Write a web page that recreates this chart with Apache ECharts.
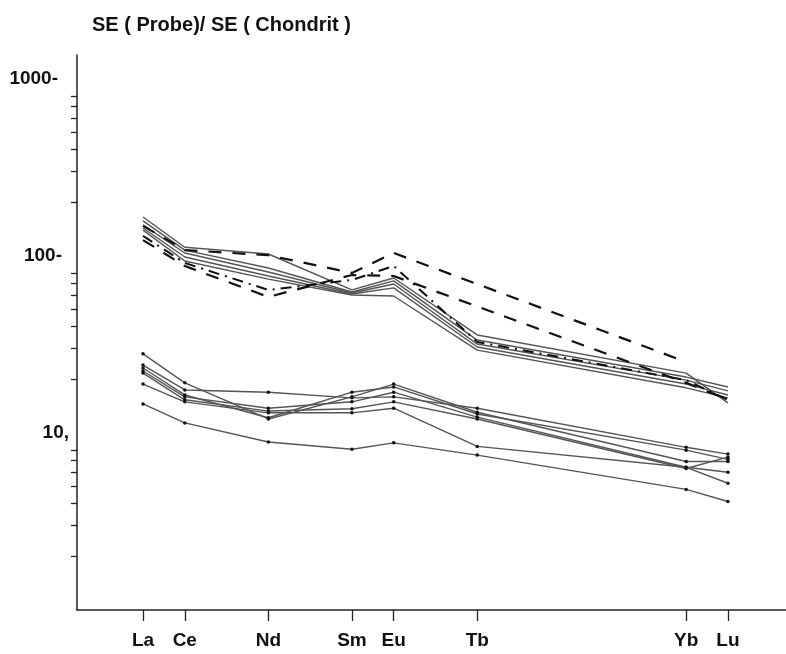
<!DOCTYPE html>
<html>
<head>
<meta charset="utf-8">
<script src="https://cdn.jsdelivr.net/npm/echarts@6/dist/echarts.min.js"></script>
<style>
  html, body { margin: 0; padding: 0; background: #fff; }
  #chart { width: 786px; height: 654px; }
</style>
</head>
<body>
<div id="chart"></div>
<script>
// element name -> atomic number (x position)
var elements = ['La', 'Ce', 'Nd', 'Sm', 'Eu', 'Tb', 'Yb', 'Lu'];
var atomicNo = [57, 58, 60, 62, 63, 65, 70, 71];

// upper group, solid lines (SE probe / SE chondrite)
var upper1 = [166, 112, 102.6, 64.3, 75.1, 35.8, 21.8, 14.8];
var upper2 = [158, 108, 85.5, 62.6, 72.3, 33.5, 20.7, 18.2];
var upper3 = [150, 104, 81.2, 61.8, 69.5, 31.8, 19.9, 17.3];
var upper4 = [144, 98.7, 77.1, 61.0, 66.0, 30.6, 18.9, 16.4];
var upper5 = [140, 93.7, 74.0, 60.2, 59.4, 29.4, 18.0, 15.8];
// upper group, broken lines (no Tb value -> straight to Yb)
var dashed1 = [148, 108, 101, 80.2, 104, null, 25.2, null];
var dashed2 = [123, 87.8, 58.7, 78.1, 77.1, null, 19.2, 15.4];
var dashdot = [130, 91.3, 64.3, 73.2, 87.8, 32.7, 19.9, 15.4];

// lower group, solid lines with points
var lower1 = [28.0, 19.2, 12.0, 16.0, 18.9, 13.1, 6.9, 6.9];
var lower2 = [24.2, 17.5, 17.0, 15.8, 16.0, 13.8, 8.3, 7.6];
var lower3 = [23.3, 16.4, 12.2, 17.0, 18.2, 12.8, 8.0, 7.1];
var lower4 = [22.4, 16.0, 13.8, 15.0, 17.0, 12.3, 6.4, 5.2];
var lower5 = [21.8, 15.4, 13.3, 13.7, 15.0, 12.0, 6.3, 7.3];
var lower6 = [18.9, 15.0, 13.0, 13.0, 13.8, 8.4, 6.4, 6.0];
var lower7 = [14.6, 11.4, 8.9, 8.1, 8.8, 7.5, 4.8, 4.1];

var yLabels = [10, 100, 1000];
var yMinorTicks = [2, 3, 4, 5, 6, 7, 8, 20, 30, 40, 50, 60, 70, 80, 200, 300, 400, 500, 600, 700, 800];

function toPoints(vals) {
  return vals.map(function (v, i) {
    return [atomicNo[i], v == null ? null : Math.log10(v)];
  });
}

function lineSeries(vals, type, withDots) {
  var s = {
    type: 'line',
    data: toPoints(vals),
    connectNulls: true,
    silent: true,
    symbol: withDots ? 'circle' : 'none',
    symbolSize: 3.5,
    itemStyle: { color: '#111' },
    lineStyle: { color: '#555', width: 1.4 }
  };
  if (type == 'dash') {
    s.lineStyle = { color: '#111', width: 2.2, type: [13, 11] };
  } else if (type == 'dashdot') {
    s.lineStyle = { color: '#111', width: 2, type: [11, 6, 2, 6] };
  }
  return s;
}

var series = [
  lineSeries(upper1), lineSeries(upper2), lineSeries(upper3), lineSeries(upper4), lineSeries(upper5),
  lineSeries(dashed1, 'dash'), lineSeries(dashed2, 'dash'), lineSeries(dashdot, 'dashdot'),
  lineSeries(lower1, '', true), lineSeries(lower2, '', true), lineSeries(lower3, '', true),
  lineSeries(lower4, '', true), lineSeries(lower5, '', true), lineSeries(lower6, '', true),
  lineSeries(lower7, '', true)
];

var myChart = echarts.init(document.getElementById('chart'), null, { renderer: 'canvas' });
var option = {
  animation: false,
  backgroundColor: '#fff',
  title: {
    text: 'SE ( Probe)/ SE ( Chondrit )',
    left: 87,
    top: 10,
    textStyle: { fontFamily: 'Liberation Sans', fontWeight: 'bold', fontSize: 20, color: '#111' }
  },
  grid: { left: 77, right: 0, top: 55, bottom: 44 },
  xAxis: {
    type: 'value',
    min: 55.42,
    max: 72.39,
    splitLine: { show: false },
    axisLine: { lineStyle: { color: '#222', width: 1.5 } },
    axisTick: { customValues: atomicNo, length: 11, lineStyle: { color: '#222', width: 1.3 } },
    axisLabel: {
      customValues: atomicNo,
      margin: 21,
      fontFamily: 'Liberation Sans',
      fontWeight: 'bold',
      fontSize: 19,
      color: '#111',
      formatter: function (v) {
        return elements[atomicNo.indexOf(Math.round(v))] || '';
      }
    }
  },
  yAxis: {
    type: 'value',
    min: 0,
    max: Math.log10(1366),
    splitLine: { show: false },
    axisLine: { lineStyle: { color: '#222', width: 1.5 } },
    axisTick: {
      customValues: yMinorTicks.map(function (v) { return Math.log10(v); }),
      length: 6,
      lineStyle: { color: '#222', width: 1.3 }
    },
    axisLabel: {
      customValues: yLabels.map(function (v) { return Math.log10(v); }),
      margin: 8,
      fontFamily: 'Liberation Sans',
      fontWeight: 'bold',
      fontSize: 19,
      color: '#111',
      formatter: function (v) {
        var n = Math.round(Math.pow(10, v));
        if (n == 1000) return '{a|1000-}';
        if (n == 100) return '{b|100-}';
        return '{c|10,}';
      },
      rich: {
        a: { fontFamily: 'Liberation Sans', fontWeight: 'bold', fontSize: 19, color: '#111', padding: [0, 11, 0, 0] },
        b: { fontFamily: 'Liberation Sans', fontWeight: 'bold', fontSize: 19, color: '#111', padding: [0, 7, 0, 0] },
        c: { fontFamily: 'Liberation Sans', fontWeight: 'bold', fontSize: 19, color: '#111', padding: [0, 0, 0, 0] }
      }
    }
  },
  series: series
};
myChart.setOption(option);
</script>
</body>
</html>
